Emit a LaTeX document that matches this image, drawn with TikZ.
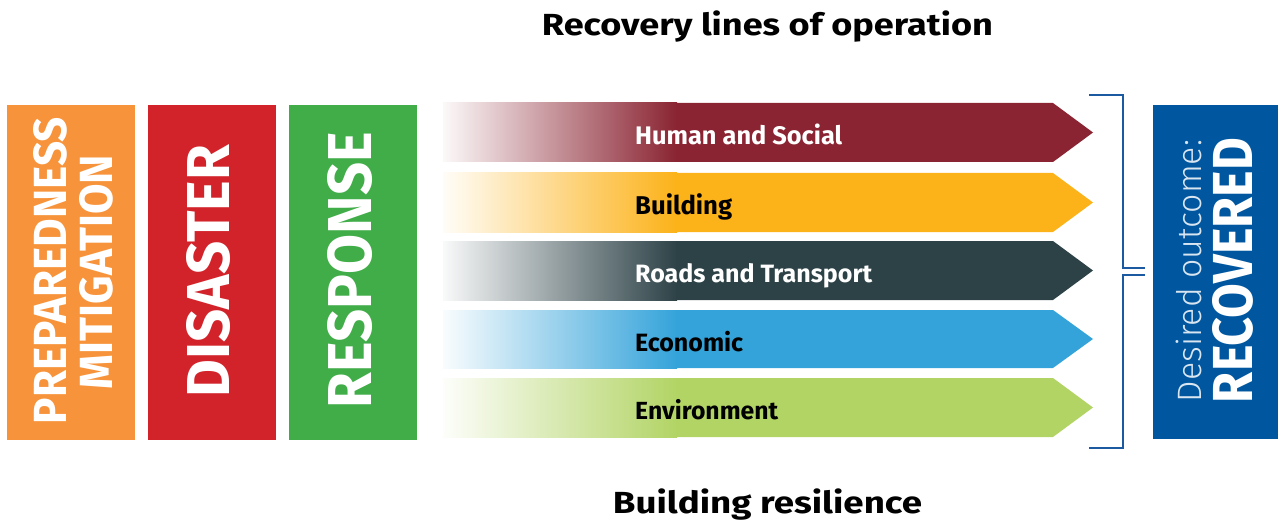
\documentclass[tikz,border=0pt]{standalone}
\usepackage{fontspec}
\setmainfont{Fira Sans}
\newfontfamily\firalight{Fira Sans Light}
\usepackage{graphicx}
\definecolor{cOrange}{HTML}{F7933A}
\definecolor{cRed}{HTML}{D2232A}
\definecolor{cGreen}{HTML}{41AD49}
\definecolor{cMaroon}{HTML}{8A2432}
\definecolor{cYellow}{HTML}{FCB219}
\definecolor{cSlate}{HTML}{2D4247}
\definecolor{cSky}{HTML}{34A3DA}
\definecolor{cLime}{HTML}{B2D465}
\definecolor{cNavy}{HTML}{01579F}
\definecolor{cBracket}{HTML}{1B5AA0}
\tikzset{
  vlabel/.style={inner sep=0pt, rotate=90, anchor=center, text=white},
  bandlabel/.style={inner sep=0pt, anchor=base west, font=\bfseries},
  heading/.style={inner sep=0pt, anchor=base, font=\bfseries\fontsize{30.5}{30.5}\selectfont},
}
\newcommand{\band}[4]{% top, bottom, colour, name
  \shade[left color=#3!3, right color=#3] (443,#1) rectangle (677,#2);
  \fill[#3] (676,#1) -- (1053,#1) -- (1093,{(#1+#2)/2}) -- (1053,#2) -- (676,#2) -- cycle;
  \coordinate (#4) at (635,{(#1+#2)/2+12});
}
\begin{document}
\begin{tikzpicture}[x=1pt,y=-1pt]
\useasboundingbox (0,0) rectangle (1278,524);
% phase boxes
\fill[cOrange] (7,105) rectangle (135,440);
\fill[cRed] (148,105) rectangle (276,440);
\fill[cGreen] (289,105) rectangle (417,440);
\fill[cNavy] (1153,105) rectangle (1278,439);
\node[vlabel] (prep) at (50,270.5) {\resizebox{307pt}{33pt}{\bfseries PREPAREDNESS}};
\node[vlabel] (miti) at (96.5,272) {\resizebox{234pt}{33pt}{\bfseries MITIGATION}};
\node[vlabel] (dis) at (208.5,271) {\resizebox{252pt}{43pt}{\bfseries DISASTER}};
\node[vlabel] (resp) at (350,270) {\resizebox{276pt}{44pt}{\bfseries RESPONSE}};
\node[vlabel, text=white!85!cNavy] (des) at (1188.5,271) {\resizebox{262pt}{!}{\firalight Desired outcome:}};
\node[vlabel] (rec) at (1233,270.5) {\resizebox{265pt}{40pt}{\bfseries RECOVERED}};
% bands
\band{103}{162}{cMaroon}{b1}
\band{173}{232}{cYellow}{b2}
\band{241}{300}{cSlate}{b3}
\band{310}{368}{cSky}{b4}
\band{378}{437}{cLime}{b5}
\node[bandlabel, text=white] (l1) at (b1) {\resizebox{207pt}{!}{Human and Social}};
\node[bandlabel, text=black] (l2) at (b2) {\resizebox{97pt}{!}{Building}};
\node[bandlabel, text=white] (l3) at (b3) {\resizebox{237pt}{!}{Roads and Transport}};
\node[bandlabel, text=black] (l4) at (b4) {\resizebox{108pt}{!}{Economic}};
\node[bandlabel, text=black] (l5) at (b5) {\resizebox{143pt}{!}{Environment}};
% bracket
\draw[cBracket, line width=2.2pt] (1089,95) -- (1123,95) -- (1123,268) -- (1145,268);
\draw[cBracket, line width=2.2pt] (1145,275) -- (1123,275) -- (1123,448) -- (1089,448);
% headings
\node[heading] (top) at (767.5,36) {\resizebox{451pt}{\height}{Recovery lines of operation}};
\node[heading] (bot) at (767.5,513) {\resizebox{309pt}{\height}{Building resilience}};
\end{tikzpicture}
\end{document}
